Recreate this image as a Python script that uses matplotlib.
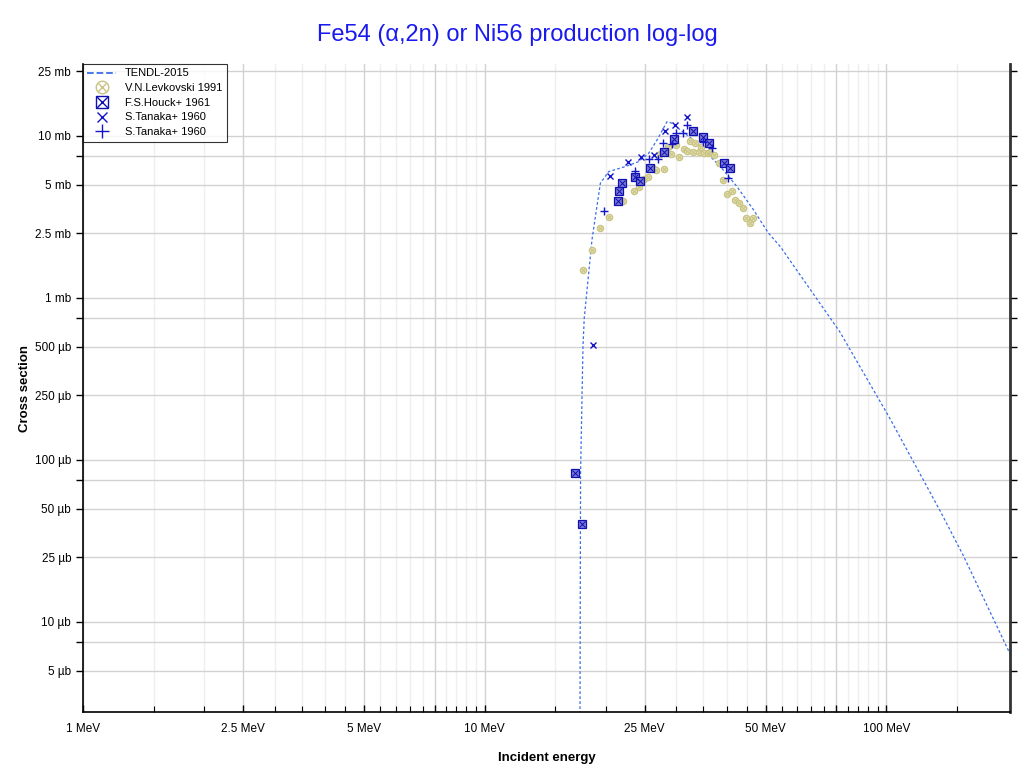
#!/usr/bin/env python3

import numpy as np
import matplotlib.pyplot as plt
from matplotlib.ticker import FixedLocator, FixedFormatter, NullFormatter
from matplotlib.lines import Line2D

plt.rcParams['font.family'] = ['Liberation Sans', 'DejaVu Sans']

# TENDL-2015 evaluation (MeV, mb)
tendl_e = [17.25, 17.29, 17.32, 17.56, 17.69, 18.49, 19.40, 20.34, 22.39, 24.16,
           25.59, 26.85, 28.43, 29.27, 30.69, 33.06, 35.76, 38.6, 42.47, 46.7,
           50.8, 54.45, 76.5, 101.9, 136.3, 155.8, 203.6]
tendl_s = [0.001, 0.0137, 0.0831, 0.499, 0.752, 2.28, 5.10, 6.02, 6.47, 6.94,
           7.82, 9.44, 12.25, 11.98, 10.89, 9.44, 7.82, 6.47, 4.86, 3.49,
           2.52, 2.07, 0.619, 0.181, 0.048, 0.0253, 0.00626]

# V.N.Levkovski 1991
lev_e = [17.56, 18.49, 19.40, 20.42, 22.09, 23.57, 24.16, 24.86, 25.44, 26.24,
         26.74, 28.0, 27.25, 28.53, 29.14, 29.99, 30.39, 31.27, 31.89, 32.49,
         33.0, 33.44, 34.08, 34.61, 35.21, 35.88, 36.44, 37.15, 38.23, 39.21,
         40.12, 41.29, 42.07, 43.05, 43.97, 44.81, 45.85, 46.56]
lev_s = [1.49, 1.98, 2.69, 3.18, 3.99, 4.60, 4.86, 5.43, 5.56, 6.32,
         6.17, 6.26, 7.71, 8.52, 7.74, 8.76, 7.45, 8.28, 8.12, 9.35,
         8.0, 9.09, 8.0, 8.59, 7.89, 7.82, 7.93, 7.63, 6.78, 5.35,
         4.39, 4.60, 4.03, 3.88, 3.58, 3.10, 2.89, 3.10]

# F.S.Houck+ 1961
hou_e = [16.80, 17.46, 21.42, 21.54, 21.97, 23.71, 24.40, 25.84, 28.0, 29.65,
         33.0, 34.95, 36.24, 39.34, 40.72]
hou_s = [0.0835, 0.0401, 3.99, 4.60, 5.15, 5.56, 5.30, 6.32, 8.0, 9.54,
         10.78, 9.82, 9.01, 6.84, 6.32]

# S.Tanaka+ 1960 (x)
tx_e = [18.56, 20.46, 22.73, 24.49, 26.44, 28.04, 29.82, 31.89]
tx_s = [0.511, 5.66, 6.94, 7.39, 7.63, 10.74, 11.64, 13.04]

# S.Tanaka+ 1960 (+)
tp_e = [19.77, 23.71, 25.59, 27.0, 27.79, 29.27, 29.95, 31.17, 31.89, 34.95,
        36.81, 40.35]
tp_s = [3.44, 6.11, 7.18, 7.18, 9.01, 8.89, 10.48, 10.48, 11.69, 9.22,
        8.40, 5.48]

x_ticks = [1, 2.5, 5, 7.5, 10, 25, 50, 75, 100]
x_labels = ['1 MeV', '2.5 MeV', '5 MeV', '', '10 MeV', '25 MeV', '50 MeV', '', '100 MeV']
x_minor = [1.5, 2, 3, 3.5, 4, 4.5, 5.5, 6, 6.5, 7, 8, 8.5, 9, 9.5,
           15, 20, 30, 35, 40, 45, 55, 60, 65, 70, 80, 85, 90, 95, 150]
y_ticks = [0.005, 0.0075, 0.01, 0.025, 0.05, 0.075, 0.1, 0.25, 0.5, 0.75,
           1, 2.5, 5, 7.5, 10, 25]
y_labels = ['5 µb', '', '10 µb', '25 µb', '50 µb', '', '100 µb', '250 µb', '500 µb', '',
            '1 mb', '2.5 mb', '5 mb', '', '10 mb', '25 mb']


def main():
    fig = plt.figure(figsize=(10.2, 7.73), dpi=100)
    ax = fig.add_axes([83 / 1020, 61 / 773, 927 / 1020, 648 / 773])
    ax.set_xscale('log')
    ax.set_yscale('log')
    ax.set_xlim(1, 203)
    ax.set_ylim(0.00278, 27.8)

    ax.xaxis.set_major_locator(FixedLocator(x_ticks))
    ax.xaxis.set_major_formatter(FixedFormatter(x_labels))
    ax.xaxis.set_minor_locator(FixedLocator(x_minor))
    ax.xaxis.set_minor_formatter(NullFormatter())
    ax.yaxis.set_major_locator(FixedLocator(y_ticks))
    ax.yaxis.set_major_formatter(FixedFormatter(y_labels))
    ax.yaxis.set_minor_locator(FixedLocator([]))

    ax.grid(True, which='major', color='#d2d2d2', lw=1.0)
    ax.grid(True, which='minor', axis='x', color='#efefef', lw=1.0)
    ax.set_axisbelow(True)

    ax.tick_params(axis='x', which='major', direction='in', length=5, width=1,
                   labelsize=8.5, pad=8, top=False)
    ax.tick_params(axis='x', which='minor', direction='in', length=4, width=0.8, top=False)
    ax.tick_params(axis='y', which='major', direction='out', length=5, width=1,
                   labelsize=8.5, right=True)

    for s in ['left', 'bottom']:
        ax.spines[s].set_color('black')
        ax.spines[s].set_linewidth(1.2)
    ax.spines['right'].set_color('#333333')
    ax.spines['right'].set_linewidth(2)
    ax.spines['top'].set_visible(False)

    ax.plot(tendl_e, tendl_s, ls=(0, (2.2, 1.8)), color='#3a6ee8', lw=0.9)

    yel = '#c9c483'
    ax.plot(lev_e, lev_s, 'o', ms=4.5, mfc='#e3dfb0', mec=yel, mew=0.9, ls='none')
    ax.plot(lev_e, lev_s, 'x', ms=2.6, mec=yel, mew=0.7, ls='none')
    ax.plot(hou_e, hou_s, 's', ms=5.2, mfc='#7a7ad6', mec='#1010b0', mew=0.9, ls='none')
    ax.plot(hou_e, hou_s, 'x', ms=4.2, mec='#1010b0', mew=0.7, ls='none')
    ax.plot(tx_e, tx_s, 'x', ms=4.3, mec='#1515c8', mew=1.0, ls='none')
    ax.plot(tp_e, tp_s, '+', ms=6, mec='#1515c8', mew=1.0, ls='none')

    h0 = Line2D([], [], ls='--', color='#3a6ee8', lw=1.3)
    h1a = Line2D([], [], marker='o', ms=9, mfc='none', mec=yel, ls='none')
    h1b = Line2D([], [], marker='x', ms=6, mec=yel, ls='none')
    h2a = Line2D([], [], marker='s', ms=9, mfc='none', mec='#1010b0', ls='none')
    h2b = Line2D([], [], marker='x', ms=8, mec='#1010b0', ls='none')
    h3 = Line2D([], [], marker='x', ms=7, mec='#1515c8', ls='none')
    h4 = Line2D([], [], marker='+', ms=10, mec='#1515c8', ls='none')
    leg = ax.legend([h0, (h1a, h1b), (h2a, h2b), h3, h4],
                    ['TENDL-2015', 'V.N.Levkovski 1991', 'F.S.Houck+ 1961',
                     'S.Tanaka+ 1960', 'S.Tanaka+ 1960'],
                    loc='upper left', bbox_to_anchor=(0, 1.0), fontsize=8,
                    frameon=True, fancybox=False, edgecolor='black',
                    borderaxespad=0, handlelength=2.6, labelspacing=0.42,
                    borderpad=0.4)
    leg.get_frame().set_linewidth(0.8)

    fig.text(517 / 1020, 1 - 35 / 773, 'Fe54 (α,2n) or Ni56 production log-log',
             ha='center', va='center', color='#1a1aee', fontsize=17)
    ax.set_xlabel('Incident energy', fontweight='bold', fontsize=9.5, labelpad=12)
    ax.set_ylabel('Cross section', fontweight='bold', fontsize=9.5)
    ax.yaxis.set_label_coords(-0.056, 0.5)

    fig.savefig('out.png', dpi=100)


if __name__ == "__main__":
    main()
